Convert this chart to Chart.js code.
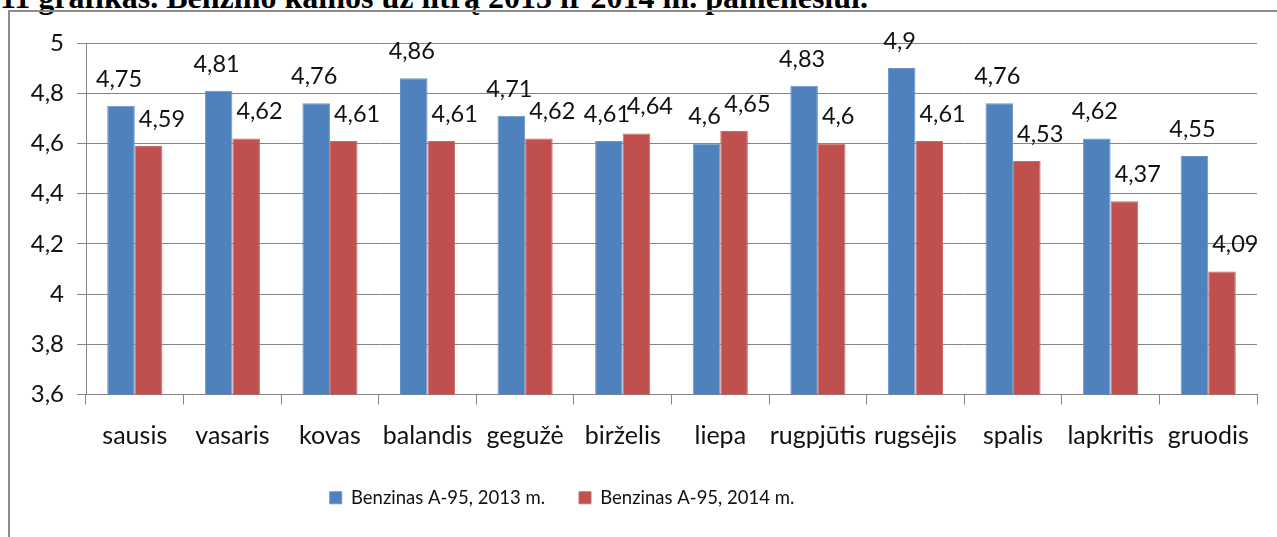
<!DOCTYPE html>
<html>
<head>
<meta charset="utf-8">
<script src="https://cdn.jsdelivr.net/npm/chart.js@4.4.1/dist/chart.umd.min.js"></script>
<style>
  html, body { margin: 0; padding: 0; background: #fff; overflow: hidden; }
  body { width: 1277px; height: 537px; position: relative; }
  #title {
    position: absolute; left: 0; top: -19px; white-space: nowrap;
    font-family: 'Liberation Serif', 'Times New Roman', serif; font-weight: bold;
    font-size: 32px; line-height: 32px; color: #000;
  }
  #frame {
    position: absolute; left: 8px; top: 10px; width: 1400px; height: 700px;
    border-left: 2px solid #8c8c8c; border-top: 2px solid #8c8c8c;
  }
  #chart { position: absolute; left: 0; top: 0; }
</style>
</head>
<body>
<div id="title">11 grafikas. Benzino kainos už litrą 2013 ir 2014 m. pamėnesiui.</div>
<div id="frame"></div>
<canvas id="chart" width="1277" height="537"></canvas>
<script>
// --- DATA ---
const months = ['sausis', 'vasaris', 'kovas', 'balandis', 'gegužė', 'birželis', 'liepa', 'rugpjūtis', 'rugsėjis', 'spalis', 'lapkritis', 'gruodis'];
const price2013 = [4.75, 4.81, 4.76, 4.86, 4.71, 4.61, 4.6, 4.83, 4.9, 4.76, 4.62, 4.55];
const price2014 = [4.59, 4.62, 4.61, 4.61, 4.62, 4.64, 4.65, 4.6, 4.61, 4.53, 4.37, 4.09];
const seriesNames = ['Benzinas A-95, 2013 m.', 'Benzinas A-95, 2014 m.'];
const yMin = 3.6, yMax = 5, yStep = 0.2;

const FONT = "Lato, 'Open Sans', sans-serif";
const gridGrey = '#868686';

const fmt = v => Number(v.toFixed(2)).toString().replace('.', ',');

// value labels over bars (2013 centred, 2014 starting at the bar's left edge)
const barLabels = {
    id: 'barLabels',
    afterDatasetsDraw(chart) {
        const ctx = chart.ctx;
        ctx.save();
        ctx.font = "23.5px " + FONT;
        ctx.fillStyle = '#111';
        ctx.textBaseline = 'alphabetic';
        chart.data.datasets.forEach((ds, i) => {
            chart.getDatasetMeta(i).data.forEach((bar, j) => {
                const txt = fmt(ds.data[j]);
                const y = bar.y - 19;
                if (i === 0) {
                    ctx.textAlign = 'center';
                    ctx.fillText(txt, bar.x - 2, y);
                } else {
                    ctx.textAlign = 'left';
                    ctx.fillText(txt, bar.x - bar.width / 2 + 4, y);
                }
            });
        });
        ctx.restore();
    }
};

// Excel centres the legend under the frame, a bit left of the canvas middle
const legendShift = {
    id: 'legendShift',
    afterLayout(chart) {
        const lg = chart.legend;
        lg.left = 0;
        lg.right = 1124;
        lg.width = lg.right - lg.left;
    }
};

const ctx = document.getElementById('chart').getContext('2d');
new Chart(ctx, {
    type: 'bar',
    data: {
        labels: months,
        datasets: [
            { label: seriesNames[0], data: price2013, backgroundColor: '#4f81bd', borderColor: '#6a94c8', borderWidth: 1 },
            { label: seriesNames[1], data: price2014, backgroundColor: '#c0504d', borderColor: '#cc6a67', borderWidth: 1 }
        ]
    },
    options: {
        responsive: false,
        animation: false,
        layout: { padding: { top: 43, right: 20, bottom: 20, left: 0 } },
        datasets: { bar: { categoryPercentage: 0.565, barPercentage: 1 } },
        scales: {
            y: {
                min: yMin, max: yMax,
                afterFit(scale) { scale.width = 86; },
                ticks: {
                    stepSize: yStep,
                    padding: 13,
                    color: '#111',
                    font: { family: FONT, size: 24 },
                    callback: v => fmt(v)
                },
                grid: { color: gridGrey, lineWidth: 1, tickLength: 9 },
                border: { color: gridGrey, width: 1 }
            },
            x: {
                afterFit(scale) { scale.height = 60; },
                ticks: {
                    padding: 16, color: '#111', autoSkip: false,
                    maxRotation: 0, minRotation: 0,
                    font: { family: FONT, size: 25 }
                },
                grid: { offset: true, drawOnChartArea: false, color: gridGrey, tickLength: 10 },
                border: { color: gridGrey, width: 1 }
            }
        },
        plugins: {
            legend: {
                position: 'bottom',
                labels: {
                    boxWidth: 12, boxHeight: 12, padding: 34,
                    color: '#111',
                    font: { family: FONT, size: 18.5 }
                }
            },
            tooltip: { enabled: false }
        }
    },
    plugins: [barLabels, legendShift]
});
</script>
</body>
</html>
